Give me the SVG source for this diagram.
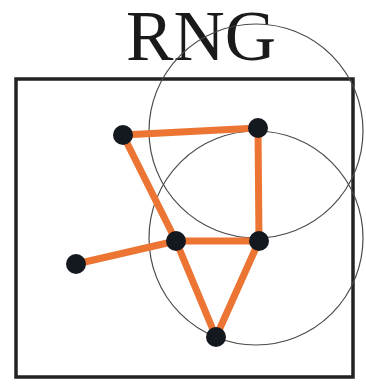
<svg xmlns="http://www.w3.org/2000/svg" width="366" height="384" viewBox="0 0 366 384">
<style>
.edge{stroke:#EC7533;stroke-width:7;stroke-linecap:round;fill:none}
.node{fill:#14181f}
.circ{fill:none;stroke:#4a4a4a;stroke-width:1.2}
.title{font-family:"Liberation Serif",serif;font-size:71px;fill:#1a1a1a}
</style>
<rect x="0" y="0" width="366" height="384" fill="#fff"/>
<text class="title" x="201" y="60" text-anchor="middle">RNG</text>
<rect x="16" y="79" width="337" height="298" fill="none" stroke="#222" stroke-width="3.5"/>
<g id="circles">
<circle class="circ" cx="256" cy="131" r="107"/>
<circle class="circ" cx="256" cy="238" r="107"/>
</g>
<g id="edges">
<line class="edge" x1="123" y1="135" x2="258" y2="128"/>
<line class="edge" x1="123" y1="135" x2="176" y2="241"/>
<line class="edge" x1="258" y1="128" x2="259" y2="241"/>
<line class="edge" x1="176" y1="241" x2="259" y2="241"/>
<line class="edge" x1="76" y1="264" x2="176" y2="241"/>
<line class="edge" x1="176" y1="241" x2="216" y2="337"/>
<line class="edge" x1="259" y1="241" x2="216" y2="337"/>
</g>
<g id="nA"><circle class="node" cx="123" cy="135" r="10"/></g>
<g id="nB"><circle class="node" cx="258" cy="128" r="10"/></g>
<g id="nC"><circle class="node" cx="176" cy="241" r="10"/></g>
<g id="nD"><circle class="node" cx="259" cy="241" r="10"/></g>
<g id="nE"><circle class="node" cx="76" cy="264" r="10"/></g>
<g id="nF"><circle class="node" cx="216" cy="337" r="10"/></g>
</svg>
